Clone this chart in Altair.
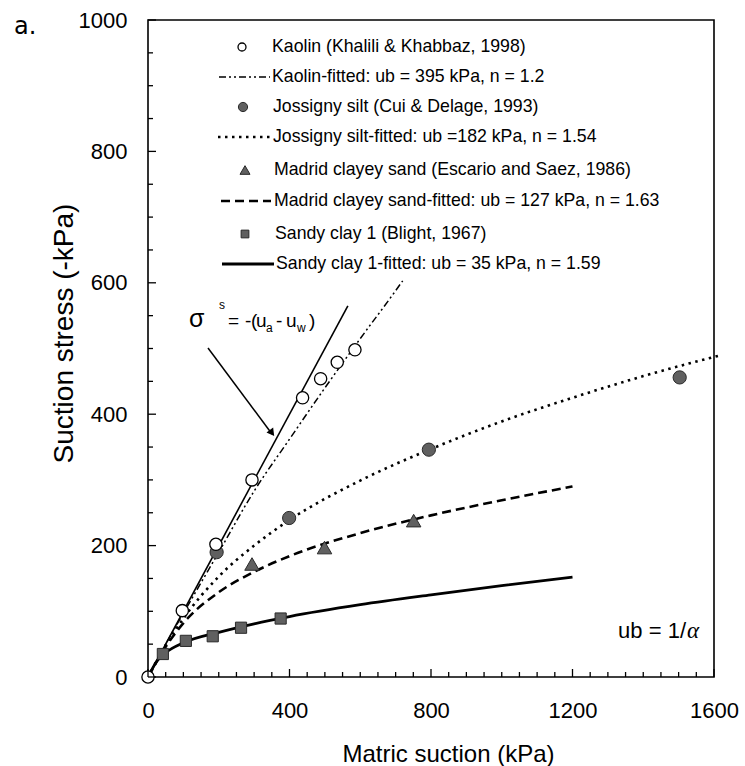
import altair as alt
import pandas as pd

# ---------------- data ----------------
kaolin_x = [0, 97, 192, 294, 437, 488, 535, 585]
kaolin_y = [0, 101, 202, 300, 425, 454, 479, 498]
jossigny_x = [194, 399, 794, 1503]
jossigny_y = [190, 242, 346, 456]
madrid_x = [294, 499, 751]
madrid_y = [172, 197, 238]
sandy_x = [42, 107, 183, 263, 375]
sandy_y = [35, 55, 62, 75, 89]

sigma_x = [0, 565]
sigma_y = [0, 565]
kaolin_fit_x = [0, 50, 100, 200, 300, 400, 500, 600, 700, 720]
kaolin_fit_y = [0, 50, 97, 190, 283, 362, 440, 515, 588, 603]
jossigny_fit_x = [0, 50, 100, 200, 300, 400, 600, 800, 1000, 1200, 1400, 1620]
jossigny_fit_y = [0, 48, 89, 153, 200, 239, 299, 347, 389, 425, 458, 490]
madrid_fit_x = [0, 50, 100, 200, 300, 400, 600, 800, 1000, 1200]
madrid_fit_y = [0, 46, 82, 129, 160, 184, 219, 246, 269, 290]
sandy_fit_x = [0, 25, 50, 100, 200, 300, 400, 600, 800, 1000, 1200]
sandy_fit_y = [0, 24, 37, 52, 68, 81, 92, 110, 125, 139, 152]

legend_labels = [
    "Kaolin (Khalili & Khabbaz, 1998)",
    "Kaolin-fitted: ub = 395 kPa, n = 1.2",
    "Jossigny silt (Cui & Delage, 1993)",
    "Jossigny silt-fitted: ub =182 kPa, n = 1.54",
    "Madrid clayey sand (Escario and Saez, 1986)",
    "Madrid clayey sand-fitted: ub = 127 kPa, n = 1.63",
    "Sandy clay 1 (Blight, 1967)",
    "Sandy clay 1-fitted: ub = 35 kPa, n = 1.59",
]
x_tick_values = [0, 400, 800, 1200, 1600]
y_tick_values = [0, 200, 400, 600, 800, 1000]
x_minor_values = list(range(0, 1601, 50))
y_minor_values = list(range(0, 1001, 50))

# ---------------- layout / style ----------------
L, T, W, H = 148, 20, 566, 657
FONT = "Liberation Sans, Arial, sans-serif"
GRAY = "#606060"
EDGE = "#2a2a2a"

xscale = alt.Scale(domain=[0, 1600], nice=False, zero=False)
yscale = alt.Scale(domain=[0, 1000], nice=False, zero=False)
xaxis = alt.Axis(values=x_tick_values, format="d", ticks=False, tickSize=0, domain=False,
                 grid=False, labelFont=FONT, labelFontSize=22, labelColor="black",
                 labelPadding=23, labelFlush=False, labelOverlap=False,
                 title="Matric suction (kPa)", titleFont=FONT, titleFontSize=24,
                 titleFontWeight="normal", titleColor="black", titleX=300, titleY=84,
                 titleBaseline="alphabetic", titleAlign="center")
yaxis = alt.Axis(values=y_tick_values, format="d", ticks=False, tickSize=0, domain=False,
                 grid=False, labelFont=FONT, labelFontSize=22, labelColor="black",
                 labelPadding=21, labelFlush=False, labelOverlap=False,
                 title="Suction stress (-kPa)", titleFont=FONT, titleFontSize=28,
                 titleFontWeight="normal", titleColor="black", titleX=-76, titleY=313,
                 titleBaseline="alphabetic", titleAlign="center")


def X(field="x"):
    return alt.X(f"{field}:Q", scale=xscale, axis=xaxis)


def Y(field="y"):
    return alt.Y(f"{field}:Q", scale=yscale, axis=yaxis)


def one():
    return pd.DataFrame({"k": [0]})


layers = []


def curve(xs, ys, width, dash=None):
    kw = dict(color="black", strokeWidth=width, interpolate="monotone", clip=False)
    if dash is not None:
        kw["strokeDash"] = dash
    df = pd.DataFrame({"x": xs, "y": ys})
    return alt.Chart(df).mark_line(**kw).encode(x=X(), y=Y())


DASHDOT = [7, 3, 2, 3, 2, 3]
DOT = [2.5, 4.5]
DASH = [9, 5]

layers.append(curve(sigma_x, sigma_y, 1.6))
layers.append(curve(kaolin_fit_x, kaolin_fit_y, 1.5, DASHDOT))
layers.append(curve(jossigny_fit_x, jossigny_fit_y, 2.6, DOT))
layers.append(curve(madrid_fit_x, madrid_fit_y, 2.6, DASH))
layers.append(curve(sandy_fit_x, sandy_fit_y, 2.8))


def pts(xs, ys, shape, size, fill, stroke, sw):
    df = pd.DataFrame({"x": xs, "y": ys})
    return alt.Chart(df).mark_point(shape=shape, size=size, filled=True, fill=fill,
                                    stroke=stroke, strokeWidth=sw, opacity=1).encode(x=X(), y=Y())


layers.append(pts(madrid_x, madrid_y, "triangle-up", 210, GRAY, EDGE, 1))
layers.append(pts(sandy_x, sandy_y, "square", 125, GRAY, EDGE, 1))
layers.append(pts(jossigny_x, jossigny_y, "circle", 175, GRAY, EDGE, 1))
layers.append(pts(kaolin_x, kaolin_y, "circle", 150, "white", "black", 1.3))

# ---------------- inward ticks ----------------
x_major = [v for v in x_minor_values if v % 400 == 0]
x_minor = [v for v in x_minor_values if v % 400 != 0]
y_major = [v for v in y_minor_values if v % 200 == 0]
y_minor = [v for v in y_minor_values if v % 200 != 0]
for vals, ln in ((x_major, 8), (x_minor, 5)):
    layers.append(alt.Chart(pd.DataFrame({"x": vals})).mark_rule(color="black", strokeWidth=1.3)
                  .encode(x=X(), y=alt.value(H), y2=alt.value(H - ln)))
for vals, ln in ((y_major, 8), (y_minor, 5)):
    layers.append(alt.Chart(pd.DataFrame({"y": vals})).mark_rule(color="black", strokeWidth=1.3)
                  .encode(y=Y(), x=alt.value(0), x2=alt.value(ln)))

# ---------------- legend (inside plot, hand drawn) ----------------
row_y = [47, 77, 107, 137, 170, 201, 234, 264]
text_x = [272, 272, 273, 273, 274, 274, 275, 276]
for lab, ry, tx in zip(legend_labels, row_y, text_x):
    layers.append(alt.Chart(one()).mark_text(font=FONT, fontSize=17.7, align="left",
                                             baseline="middle", color="black")
                  .encode(x=alt.value(tx - L), y=alt.value(ry - T), text=alt.value(lab)))

sym_specs = [
    (0, 242, "circle", 64, "white", "black", 1.3),
    (2, 243, "circle", 85, GRAY, EDGE, 1),
    (4, 245, "triangle-up", 100, GRAY, EDGE, 1),
    (6, 245, "square", 60, GRAY, EDGE, 1),
]
for idx, sx, shape, size, fill, stroke, sw in sym_specs:
    layers.append(alt.Chart(one()).mark_point(shape=shape, size=size, filled=True, fill=fill,
                                              stroke=stroke, strokeWidth=sw, opacity=1)
                  .encode(x=alt.value(sx - L), y=alt.value(row_y[idx] - T)))

line_specs = [
    (1, 219, 270, 1.5, DASHDOT),
    (3, 218, 270, 2.6, DOT),
    (5, 221, 271, 2.6, DASH),
    (7, 222, 274, 2.8, None),
]
for idx, x1, x2, sw, dash in line_specs:
    kw = dict(color="black", strokeWidth=sw)
    if dash is not None:
        kw["strokeDash"] = dash
    layers.append(alt.Chart(one()).mark_rule(**kw)
                  .encode(x=alt.value(x1 - L), x2=alt.value(x2 - L),
                          y=alt.value(row_y[idx] - T), y2=alt.value(row_y[idx] - T)))

# ---------------- annotations ----------------
pieces = [  # (text, x, baseline y, size, italic, align)
    ("σ", 189, 327, 25, False, "left"),
    ("s", 219, 309, 12, False, "left"),
    ("=", 228, 327, 19, False, "left"),
    ("-", 245, 327, 19, False, "left"),
    ("(", 251, 327, 19, False, "left"),
    ("u", 256, 327, 19, False, "left"),
    ("a", 266, 332, 12, False, "left"),
    ("-", 276, 327, 19, False, "left"),
    ("u", 286, 327, 19, False, "left"),
    ("w", 297, 332, 12, False, "left"),
    (")", 309, 327, 19, False, "left"),
    ("ub = 1/", 686, 638, 22, False, "right"),
    ("α", 687, 638, 23, True, "left"),
]
for txt, tx, ty, fs, it, al in pieces:
    kw = dict(font=FONT, fontSize=fs, align=al, baseline="alphabetic", color="black")
    if it:
        kw["fontStyle"] = "italic"
        kw["font"] = "Liberation Serif, serif"
    layers.append(alt.Chart(one()).mark_text(**kw)
                  .encode(x=alt.value(tx - L), y=alt.value(ty - T), text=alt.value(txt)))

layers.append(alt.Chart(one()).mark_text(font="DejaVu Sans", fontSize=24, align="left",
                                         baseline="alphabetic", color="black")
              .encode(x=alt.value(14 - L), y=alt.value(34 - T), text=alt.value("a.")))

# arrow
layers.append(alt.Chart(one()).mark_rule(color="black", strokeWidth=1.5)
              .encode(x=alt.value(208 - L), y=alt.value(348 - T),
                      x2=alt.value(272 - L), y2=alt.value(434 - T)))
layers.append(alt.Chart(one()).mark_point(shape="triangle-down", size=70, filled=True,
                                          color="black", angle=323, opacity=1)
              .encode(x=alt.value(272 - L), y=alt.value(433 - T)))

chart = alt.layer(*layers).properties(
    width=W, height=H,
    padding={"left": L, "top": T, "right": 745 - L - W, "bottom": 766 - T - H},
    autosize=alt.AutoSizeParams(type="none"),
    background="white",
).configure_view(stroke="black", strokeWidth=1.6)

chart.save("out.html", embed_options={"renderer": "svg", "actions": False})
